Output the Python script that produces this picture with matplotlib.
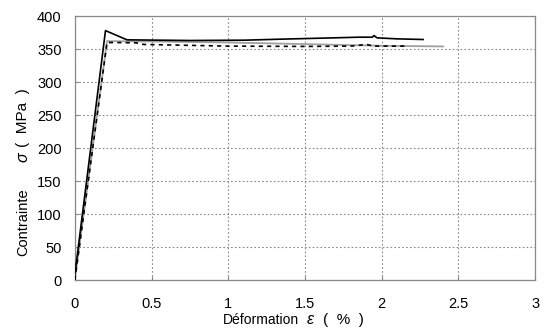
import matplotlib
matplotlib.use("Agg")
import matplotlib.pyplot as plt

# Stress-strain curves (strain in %, stress in MPa)
strain_a = [0.0, 0.0, 0.20, 0.34, 0.75, 1.11, 1.34, 1.60, 1.85, 1.94, 1.95, 1.97, 2.10, 2.27]
stress_a = [0.0, 8.0, 378.0, 364.0, 363.0, 363.5, 365.0, 366.5, 368.0, 368.0, 370.5, 367.0, 365.5, 364.5]

strain_b = [0.0, 0.21, 0.40, 0.45, 1.00, 1.50, 1.80, 1.90, 1.95, 2.15]
stress_b = [0.0, 360.0, 359.5, 357.0, 354.5, 354.0, 354.5, 357.0, 354.5, 354.5]

strain_c = [0.0, 0.21, 0.50, 1.00, 1.50, 2.00, 2.40]
stress_c = [0.0, 362.0, 361.5, 360.0, 357.5, 355.0, 354.0]

x_ticks = [0, 0.5, 1, 1.5, 2, 2.5, 3]
x_tick_labels = ["0", "0.5", "1", "1.5", "2", "2.5", "3"]
y_ticks = [0, 50, 100, 150, 200, 250, 300, 350, 400]

fig = plt.figure(figsize=(5.46, 3.35), dpi=100)
ax = fig.add_axes([0.137, 0.164, 0.843, 0.788])

ax.plot(strain_c, stress_c, color="#a0a0a0", lw=1.3, zorder=3)
ax.plot(strain_b, stress_b, color="black", lw=1.2, ls=(0, (2.5, 2.5)), zorder=4)
ax.plot(strain_a, stress_a, color="black", lw=1.2, zorder=5)

ax.set_xlim(0, 3)
ax.set_ylim(0, 400)
ax.set_xticks(x_ticks)
ax.set_xticklabels(x_tick_labels)
ax.set_yticks(y_ticks)
ax.grid(True, color="#888888", ls=(0, (1.5, 2)), lw=0.8)
ax.set_axisbelow(True)
for s in ax.spines.values():
    s.set_color("#888888")
    s.set_linewidth(0.9)
ax.tick_params(direction="in", length=3, color="#888888", labelsize=10.5)
ax.tick_params(axis="x", pad=12)
ax.tick_params(axis="y", pad=9.5)
for lab in ax.get_xticklabels() + ax.get_yticklabels():
    lab.set_family(["Liberation Sans", "DejaVu Sans"])

sans = ["Liberation Sans", "DejaVu Sans"]

# x-axis title
fig.text(261 / 546, 1 - 320 / 335, "Déformation", ha="center", va="center",
         fontsize=10, family=sans)
fig.text(310 / 546, 1 - 320 / 335, "ε", ha="center", va="center",
         fontsize=11.5, family=sans, style="italic")
fig.text(343 / 546, 1 - 320 / 335, "(  %  )", ha="center", va="center",
         fontsize=11, family=sans)

# y-axis title
fig.text(23 / 546, 1 - 222 / 335, "Contrainte", ha="center", va="center",
         rotation=90, fontsize=10.5, family=sans)
fig.text(23 / 546, 1 - 157 / 335, "σ", ha="center", va="center",
         rotation=90, fontsize=11.5, family=sans, style="italic")
fig.text(23 / 546, 1 - 118 / 335, "(  MPa  )", ha="center", va="center",
         rotation=90, fontsize=11, family=sans)

fig.savefig("out.png", dpi=100)
